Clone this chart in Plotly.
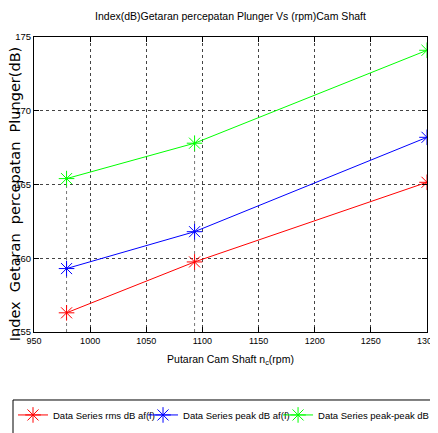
import plotly.graph_objects as go

rpm = [979, 1093, 1300]
rms_db = [156.3, 159.75, 165.15]
peak_db = [159.3, 161.8, 168.2]
peakpeak_db = [165.4, 167.8, 174.1]

series_names = ["Data Series rms dB af(f)", "Data Series peak dB af(f)", "Data Series peak-peak dB af(f)}"]
series_vals = [rms_db, peak_db, peakpeak_db]
colors = ["#ff0000", "#0000ff", "#00ff00"]
legend_ids = ["legend", "legend2", "legend3"]
legend_x = [-0.0534, 0.2774, 0.621]

x_ticks = [950, 1000, 1050, 1100, 1150, 1200, 1250, 1300]
y_ticks = [155, 160, 165, 170, 175]

FONT = "Liberation Sans, Arial, sans-serif"

fig = go.Figure()

# dotted vertical guide lines through the data points
gx, gy = [], []
for xv, top in zip(rpm[:2], peakpeak_db[:2]):
    gx += [xv, xv, None]
    gy += [y_ticks[0], top, None]
fig.add_trace(go.Scatter(x=gx, y=gy, mode="lines", showlegend=False, hoverinfo="skip",
                         line=dict(color="#777777", width=1, dash="dot")))

for name, vals, c, lg in zip(series_names, series_vals, colors, legend_ids):
    fig.add_trace(go.Scatter(
        x=rpm, y=vals, mode="lines+markers", name=name, legend=lg,
        line=dict(color=c, width=1),
        marker=dict(symbol="asterisk-open", size=13, color=c, line=dict(color=c, width=1)),
    ))

axis_common = dict(
    showline=True, linecolor="black", linewidth=1, mirror="ticks",
    ticks="inside", ticklen=5, tickcolor="black",
    showgrid=True, gridcolor="#444444", griddash="dot", gridwidth=1,
    zeroline=False, ticklabeloverflow="allow", automargin=False,
)

legend_common = dict(orientation="h", xanchor="left", y=-0.232, yanchor="top",
                     borderwidth=0, bgcolor="rgba(0,0,0,0)",
                     font=dict(family=FONT, size=9.5, color="black"),
                     itemwidth=30, tracegroupgap=0)

layout_legends = {lg: dict(x=lx, **legend_common) for lg, lx in zip(legend_ids, legend_x)}

fig.update_layout(
    width=438, height=433,
    margin=dict(l=26, r=19, t=29, b=109, autoexpand=False),
    paper_bgcolor="white", plot_bgcolor="white",
    title=dict(text="Index(dB)Getaran percepatan Plunger Vs (rpm)Cam Shaft",
               xref="paper", x=0.5, xanchor="center", y=0.98, yanchor="middle",
               font=dict(family=FONT, size=10.5, color="black")),
    xaxis=dict(range=[950, 1300], tickvals=x_ticks,
               tickfont=dict(family=FONT, size=9, color="black"),
               title=dict(text="Putaran Cam Shaft n<sub>c</sub>(rpm)", standoff=10,
                          font=dict(family=FONT, size=10.5, color="black")),
               **axis_common),
    yaxis=dict(range=[155, 175], tickvals=y_ticks,
               tickfont=dict(family=FONT, size=9.5, color="black"),
               **axis_common),
    annotations=[dict(text="Index  Getaran  percepatan  Plunger(dB)", textangle=-90,
                      xref="paper", yref="paper", x=-0.0485, y=0.47,
                      xanchor="center", yanchor="middle", showarrow=False,
                      font=dict(family="DejaVu Sans, sans-serif", size=14.5, color="black"))],
    shapes=[dict(type="rect", xref="paper", yref="paper", x0=-0.0534, x1=1.2,
                 y0=-0.2305, y1=-0.6, line=dict(color="black", width=1), fillcolor="white",
                 layer="below")],
    showlegend=True,
    **layout_legends,
)

fig.write_html("out.html")
